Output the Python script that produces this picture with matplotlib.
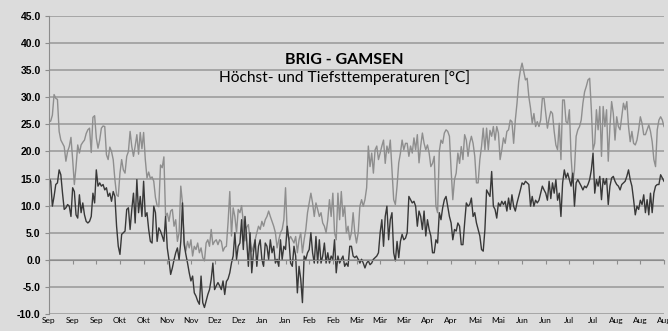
import matplotlib.pyplot as plt
import numpy as np
from matplotlib.ticker import FormatStrFormatter

# Tageswerte 1. Sep bis 31. Aug (365 Tage)
tmax = [
    25.5, 25.6, 26.7, 30.5, 29.8, 29.6, 23.7, 22.1, 21.5, 20.9,
    18.2, 20.0, 20.9, 22.6, 18.5, 13.9, 17.2, 21.2, 19.7, 21.2,
    21.7, 22.1, 23.3, 24.0, 24.3, 19.8, 26.3, 26.6, 22.5, 20.6,
    22.1, 24.3, 24.7, 24.6, 19.4, 18.5, 20.8, 20.0, 18.5, 14.8,
    12.0, 11.7, 16.0, 18.5, 16.6, 16.0, 19.1, 20.0, 23.7, 20.9,
    19.1, 21.0,
    23.1, 19.5, 23.5, 20.5, 23.5, 18.5, 15.1, 16.2, 15.0, 15.3,
    14.5, 11.5, 10.0, 9.8, 17.5, 17.0, 19.0,
    8.0, 8.6, 7.1, 9.0, 9.3, 6.2, 7.4, 3.4, 5.0, 13.6,
    10.5, 3.4, 1.6, 3.4, 2.2, 3.7, 0.7, 2.5, 1.9, 3.1,
    1.3, 2.2, 0.4, -0.2, 3.1, 3.7, 2.5, 5.6, 2.8, 3.4,
    3.7, 2.8, 3.7, 3.4, 1.6,
    2.3, 2.5, 7.0, 12.6, 4.4, 9.6, 8.0, 5.0, 9.3, 8.7,
    10.0, 7.0, 3.5, 6.0, 6.5, 3.7, 1.5, 2.5, 3.7, 5.0,
    6.2, 5.6, 7.1, 6.2, 7.4, 8.0, 9.0, 8.0, 7.1, 6.2,
    5.0, 2.2, 3.7, 5.0, 5.6, 7.4, 13.3, 5.0, 3.7, 4.3,
    3.7, 3.1, 4.3, 1.3, 3.7, 5.0, 1.3, 3.7, 5.6, 8.7,
    10.5, 12.3, 10.5, 8.0, 10.5, 9.3, 8.0, 8.7, 6.8, 6.2,
    5.0, 7.4, 11.1, 8.0, 12.3, 5.0, 3.7, 12.3, 7.4, 12.6,
    8.0, 9.9, 5.0, 6.2, 3.7, 5.0, 8.7, 5.0, 3.1, 5.0,
    9.9, 11.1, 9.9, 11.1, 13.3, 21.0, 17.2, 19.7, 16.0, 20.3,
    21.0, 18.5, 19.7, 21.0, 22.1, 17.8, 21.0, 19.7, 22.1, 16.6, 11.1,
    10.2, 13.6, 17.9, 19.7, 22.1, 20.3, 21.5, 21.5, 19.1, 21.0,
    19.7, 22.5, 20.3, 23.1, 17.9, 21.0, 23.4, 21.5, 20.3, 21.2,
    19.7, 17.2, 17.8, 19.1, 9.9, 8.7, 20.0, 22.1, 21.5, 23.4,
    24.0, 23.7, 22.8, 16.6, 11.1, 14.8, 16.0, 19.7, 17.8, 20.9,
    18.5, 23.1, 22.1, 19.1, 21.5, 22.8, 21.5, 19.1, 14.2, 14.2,
    18.5, 20.9,
    24.3, 20.3, 24.3, 20.3, 23.9, 22.8, 24.6, 22.1, 24.6, 23.4,
    18.5, 20.3, 22.5, 21.5, 23.7, 24.0, 25.8, 25.5, 21.5, 25.8,
    28.9, 32.9, 35.0, 36.3, 34.7, 33.2, 33.5, 30.1, 28.0, 25.2,
    27.0, 24.6, 25.5, 24.6, 25.8, 29.8, 29.8, 27.0, 24.3, 26.1,
    27.4, 27.0, 23.7, 21.2, 20.3, 25.2, 18.5, 29.5, 29.5, 25.5,
    25.2, 27.7, 19.1, 14.2,
    16.6, 22.8, 24.0, 24.6, 25.8, 28.9, 31.0, 32.0, 33.2, 33.5,
    27.7, 20.3, 21.5, 27.7, 24.0, 28.3, 19.1, 28.3, 24.6, 27.7,
    18.2, 24.6, 29.2, 27.0, 22.1, 26.4, 24.6, 24.0, 26.4, 28.9,
    27.7, 29.2, 24.6, 21.8, 23.7, 21.5, 21.2, 22.1, 24.0, 26.4,
    25.2, 23.1, 23.1, 24.0, 24.9, 23.7, 21.8, 18.5, 17.2, 24.0,
    25.8, 26.4, 25.8, 24.6,
]

tmin = [
    15.1, 14.5, 9.9, 11.7, 13.9, 14.2, 16.6, 15.7, 12.3, 9.3,
    9.6, 10.2, 9.9, 8.0, 13.3, 12.6, 8.3, 7.7, 12.0, 8.7,
    10.5, 8.3, 7.1, 6.8, 7.1, 8.0, 12.3, 10.5, 16.6, 13.6,
    14.2, 13.6, 13.9, 12.9, 13.3, 11.7, 12.3, 10.8, 12.6, 11.7,
    6.2, 2.5, 1.0, 4.7, 5.0, 5.3, 9.3, 9.6, 5.6, 9.3,
    12.3, 6.8,
    14.8, 8.7, 11.7, 8.0, 14.5, 8.0, 8.7, 5.6, 3.4, 3.1,
    9.9, 8.7, 3.4, 5.9, 5.3, 4.4, 3.4,
    8.0, 2.2, 0.0, -2.7, -1.5, 0.0, 1.3, 2.2, 0.0, 3.4,
    10.5, 2.8, 1.0, -0.6, -2.4, -3.9, -3.0, -6.1, -6.7, -7.6,
    -8.2, -3.0, -7.9, -8.8, -7.6, -6.4, -5.5, -3.6, -0.6, -5.5,
    -4.8, -4.2, -4.8, -5.5, -3.9,
    -6.4, -4.0, -3.5, -2.4, -0.6, 0.7, 5.0, 0.1, 2.5, 3.1,
    7.4, 1.9, 8.0, 3.7, -1.2, 5.0, -2.4, 1.3, 3.7, -1.2,
    2.5, 3.7, 0.1, -1.2, 3.1, 2.5, 0.1, 3.7, 1.3, 2.5,
    -0.6, 0.1, -1.2, 3.7, 0.1, 2.5, 1.9, 6.2, 3.7, -0.6,
    -1.2, 2.5, 0.7, -6.1, -1.2, -3.6, -7.9, 0.7, 0.1, 1.3,
    1.9, 5.0, 1.3, -0.6, 4.3, -0.6, 3.7, -0.6, 0.7, 3.1,
    -0.6, 1.3, -0.6, 0.7, 0.1, 3.7, -2.4, 0.7, -0.6, 0.1,
    0.7, -1.2, -0.6, -1.2, 2.5, 2.5, 0.7, 0.4, 0.7, 0.1,
    -0.6, 0.1, -0.6, -1.5, -0.6, -0.2, -0.9, -0.6, 0.1, 0.4,
    0.7, 1.3, 5.0, 7.4, 2.5, 8.0, 9.9, 3.7, 7.4, 8.7, 1.3,
    -0.2, 3.4, 0.4, 3.4, 4.7, 3.7, 4.0, 5.0, 11.7, 11.1,
    10.5, 10.8, 9.9, 6.2, 9.0, 8.0, 5.6, 9.0, 4.4, 7.4,
    5.6, 4.4, 1.3, 1.3, 3.7, 3.1, 8.7, 7.4, 9.6, 11.1,
    11.7, 9.9, 8.0, 6.8, 3.7, 5.6, 5.3, 6.8, 6.2, 2.8,
    2.8, 6.8, 10.5, 9.9, 10.2, 11.4, 8.0, 8.7, 6.8, 5.6,
    4.4, 1.9,
    1.6, 5.6, 12.9, 12.3, 11.7, 16.3, 9.9, 9.3, 7.7, 10.5,
    9.9, 10.8, 10.2, 10.8, 9.0, 11.4, 9.3, 12.0, 9.9, 9.0,
    10.5, 11.7, 12.9, 14.2, 13.9, 14.5, 14.2, 13.9, 9.9, 11.7,
    9.9, 11.0, 10.5, 11.0, 12.3, 13.6, 12.9, 12.3, 11.0, 14.5,
    11.3, 14.2, 12.3, 14.8, 11.0, 12.3, 8.0, 14.2, 16.6, 15.1,
    16.0, 14.8, 13.6, 16.0,
    9.9, 14.2, 14.8, 14.2, 13.6, 12.9, 13.6, 13.3, 13.9, 14.8,
    16.6, 19.7, 12.3, 14.8, 13.6, 15.4, 11.1, 15.0, 13.9, 15.0,
    10.2, 13.6, 15.1, 15.4, 14.5, 13.9, 13.6, 12.9, 13.9, 14.2,
    14.5, 15.4, 16.6, 14.8, 13.6, 11.1, 8.3, 9.9, 9.3, 11.0,
    10.2, 12.0, 8.7, 11.1, 8.3, 12.3, 8.7, 12.3, 13.6, 13.9,
    13.9, 15.7, 15.1, 14.5,
]

# Achsenbeschriftung alle 14 Tage
tick_labels = ['Sep', 'Sep', 'Sep', 'Okt', 'Okt', 'Nov', 'Nov', 'Dez', 'Dez',
               'Jan', 'Jan', 'Feb', 'Feb', 'Mär', 'Mär', 'Mär', 'Apr', 'Apr',
               'Mai', 'Mai', 'Jun', 'Jun', 'Jul', 'Jul', 'Aug', 'Aug', 'Aug']

days = np.arange(len(tmax))
tick_pos = np.arange(len(tick_labels)) * 14

bg = '#dcdcdc'
fig = plt.figure(figsize=(6.68, 3.31), dpi=100)
fig.patch.set_facecolor(bg)
ax = fig.add_axes([49 / 668, 17 / 331, 615 / 668, 298 / 331])
ax.set_facecolor(bg)

ax.plot(days, tmax, color='#8e8e8e', lw=1.0)
ax.plot(days, tmin, color='#383838', lw=1.0)

ax.set_xlim(0, 364)
ax.set_ylim(-10, 45)
ax.set_yticks(np.arange(-10, 46, 5))
ax.yaxis.set_major_formatter(FormatStrFormatter('%.1f'))
ax.grid(axis='y', color='#a2a2a2', lw=1.3)
ax.set_axisbelow(True)

for s in ['top', 'right']:
    ax.spines[s].set_visible(False)
ax.spines['left'].set_color('#8c8c8c')
ax.spines['bottom'].set_position(('data', 0))
ax.spines['bottom'].set_color('#8c8c8c')

ax.set_xticks(tick_pos)
ax.tick_params(axis='x', direction='out', length=3, color='#8c8c8c',
               labelbottom=False)
ax.tick_params(axis='y', length=3, color='#8c8c8c', pad=3)
for lab in ax.get_yticklabels():
    lab.set_fontfamily('Liberation Sans')
    lab.set_fontweight('bold')
    lab.set_fontsize(7.5)

# Monatsnamen unterhalb der Zeichenfläche
sec = ax.secondary_xaxis('bottom')
sec.set_xticks(tick_pos, tick_labels)
sec.tick_params(length=0, pad=2, labelsize=6)
for lab in sec.get_xticklabels():
    lab.set_fontfamily('Lato')
sec.spines['bottom'].set_visible(False)

fig.text(0.515, 0.818, 'BRIG - GAMSEN', ha='center', va='center',
         fontsize=11.5, fontweight='bold', family='Lato')
fig.text(0.515, 0.766, 'Höchst- und Tiefsttemperaturen [°C]', ha='center',
         va='center', fontsize=11.2, family='Lato')

fig.savefig('out.png', dpi=100, facecolor=bg)
